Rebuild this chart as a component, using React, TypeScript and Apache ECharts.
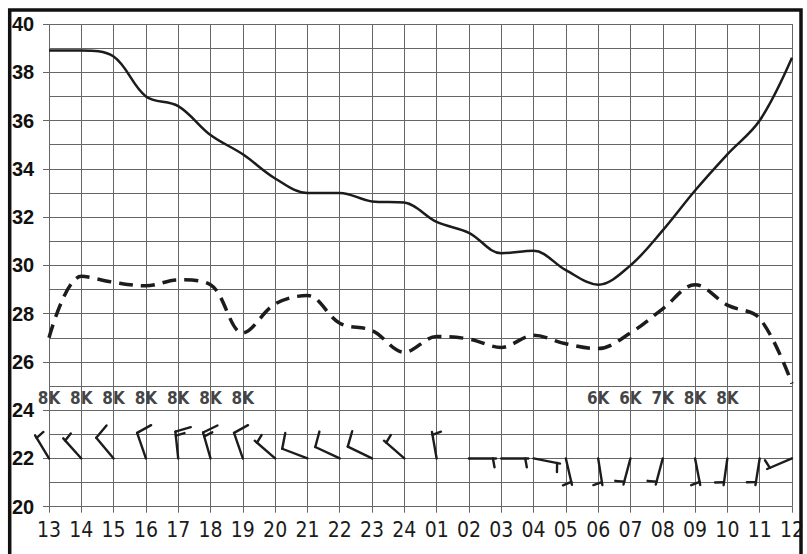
import React, { useEffect, useRef } from "react";
import * as echarts from "echarts";

// Hour ticks along the bottom (13:00 through 12:00 the next day)
const hours = [
  "13", "14", "15", "16", "17", "18", "19", "20", "21", "22", "23", "24",
  "01", "02", "03", "04", "05", "06", "07", "08", "09", "10", "11", "12",
];

// Temperature (solid) and dew point (dashed)
const temperature = [
  38.9, 38.9, 38.65, 37.0, 36.6, 35.4, 34.6, 33.6, 33.0, 33.0, 32.65, 32.6,
  31.8, 31.35, 30.5, 30.6, 29.8, 29.2, 30.0, 31.45, 33.1, 34.6, 36.0, 38.6,
];
const dewPoint = [
  27.0, 29.55, 29.3, 29.15, 29.4, 29.2, 27.2, 28.4, 28.75, 27.6, 27.3, 26.4,
  27.05, 26.95, 26.6, 27.1, 26.75, 26.55, 27.2, 28.2, 29.2, 28.35, 27.8, 25.1,
];

// Wind: direction the wind blows from (degrees) and speed (knots)
const windDir = [
  329, 318, 320, 341, 354, 344, 341, 311, 291, 295, 296, 311,
  350, 90, 90, 101, 167, 171, 195, 195, 169, 188, 189, 247,
];
const windSpeed = [
  5, 5, 10, 10, 15, 15, 10, 5, 10, 10, 10, 5,
  5, 5, 5, 5, 5, 5, 5, 5, 5, 5, 5, 5,
];

// Visibility reports
const visibility = [
  "8K", "8K", "8K", "8K", "8K", "8K", "8K", "", "", "", "", "",
  "", "", "", "", "", "6K", "6K", "7K", "8K", "8K", "", "",
];

const WIND_ROW = 22;
const VIS_ROW = 24.5;

const INK = "#1c1c1c";
const GRID = "#666666";
const NARROW = "'Liberation Sans Narrow', 'Arial Narrow', 'DejaVu Sans Condensed', sans-serif";

export default function App() {
  const ref = useRef<HTMLDivElement>(null);

  useEffect(() => {
    if (!ref.current) return;
    const chart = echarts.init(ref.current, undefined, { renderer: "svg" });

    const windData = hours.map((_, i) => [i, WIND_ROW, windDir[i], windSpeed[i]]);
    const visData = hours
      .map((_, i) => [i, VIS_ROW, visibility[i]])
      .filter((d) => d[2] !== "");

    const renderBarb = (params: any, api: any) => {
      const p = api.coord([api.value(0), api.value(1)]);
      const dir = (api.value(2) * Math.PI) / 180;
      const spd = api.value(3);
      const staff = 27;
      const ux = Math.sin(dir);
      const uy = -Math.cos(dir);
      const tip = [p[0] + ux * staff, p[1] + uy * staff];
      const a = Math.atan2(uy, ux) + (80 * Math.PI) / 180;
      const bx = Math.cos(a);
      const by = Math.sin(a);
      const style = { stroke: INK, lineWidth: 2.4, lineCap: "round" };
      const children: any[] = [
        { type: "line", shape: { x1: p[0], y1: p[1], x2: tip[0], y2: tip[1] }, style },
      ];
      const full = Math.floor(spd / 10);
      const half = spd % 10 >= 5 ? 1 : 0;
      let off = full === 0 ? 3 : 0;
      for (let k = 0; k < full; k++) {
        const sx = tip[0] - ux * off;
        const sy = tip[1] - uy * off;
        children.push({
          type: "line",
          shape: { x1: sx, y1: sy, x2: sx + bx * 16, y2: sy + by * 16 },
          style,
        });
        off += 4;
      }
      if (half) {
        const sx = tip[0] - ux * off;
        const sy = tip[1] - uy * off;
        children.push({
          type: "line",
          shape: { x1: sx, y1: sy, x2: sx + bx * 9, y2: sy + by * 9 },
          style,
        });
      }
      return { type: "group", children };
    };

    chart.setOption({
      animation: false,
      backgroundColor: "#ffffff",
      grid: { left: 49, right: 12, top: 24, bottom: 47.3, containLabel: false },
      xAxis: {
        type: "category",
        data: hours,
        boundaryGap: false,
        axisLine: { show: false },
        axisTick: { show: true, alignWithLabel: true, length: 6, lineStyle: { color: GRID } },
        axisLabel: {
          interval: 0,
          margin: 13,
          color: INK,
          fontSize: 21,
          fontFamily: NARROW,
        },
        splitLine: { show: true, lineStyle: { color: GRID, width: 1 } },
      },
      yAxis: {
        type: "value",
        min: 20,
        max: 40,
        interval: 2,
        axisLine: { show: false },
        axisTick: { show: true, length: 6, lineStyle: { color: GRID } },
        axisLabel: {
          align: "left",
          margin: 37,
          color: "#111111",
          fontSize: 20,
          fontWeight: "bold",
          fontFamily: "'Liberation Sans', Arial, sans-serif",
        },
        splitLine: { show: true, lineStyle: { color: GRID, width: 1 } },
        minorTick: { show: false, splitNumber: 2 },
        minorSplitLine: { show: true, lineStyle: { color: GRID, width: 1 } },
      },
      series: [
        {
          type: "line",
          data: temperature,
          smooth: 0.35,
          symbol: "none",
          lineStyle: { color: INK, width: 2.5 },
          z: 5,
        },
        {
          type: "line",
          data: dewPoint,
          smooth: 0.35,
          symbol: "none",
          lineStyle: { color: INK, width: 3.5, type: [14, 8] },
          z: 5,
        },
        {
          type: "custom",
          data: windData,
          encode: { x: 0, y: 1 },
          renderItem: renderBarb,
          z: 6,
        },
        {
          type: "scatter",
          data: visData,
          symbolSize: 1,
          itemStyle: { color: "rgba(0,0,0,0)" },
          label: {
            show: true,
            position: "inside",
            formatter: (p: any) => p.value[2],
            color: "#111111",
            textBorderWidth: 0,
            fontSize: 17,
            fontWeight: "bold",
            fontFamily: NARROW,
          },
          z: 6,
        },
      ],
      graphic: [
        {
          type: "rect",
          shape: { x: 9.7, y: 10, width: 791.3, height: 600 },
          style: { fill: "none", stroke: "#111111", lineWidth: 3.5 },
          silent: true,
          z: 10,
        },
      ],
    });

    return () => chart.dispose();
  }, []);

  return (
    <div
      ref={ref}
      style={{ position: "absolute", left: 0, top: 0, width: 807, height: 554 }}
    />
  );
}
